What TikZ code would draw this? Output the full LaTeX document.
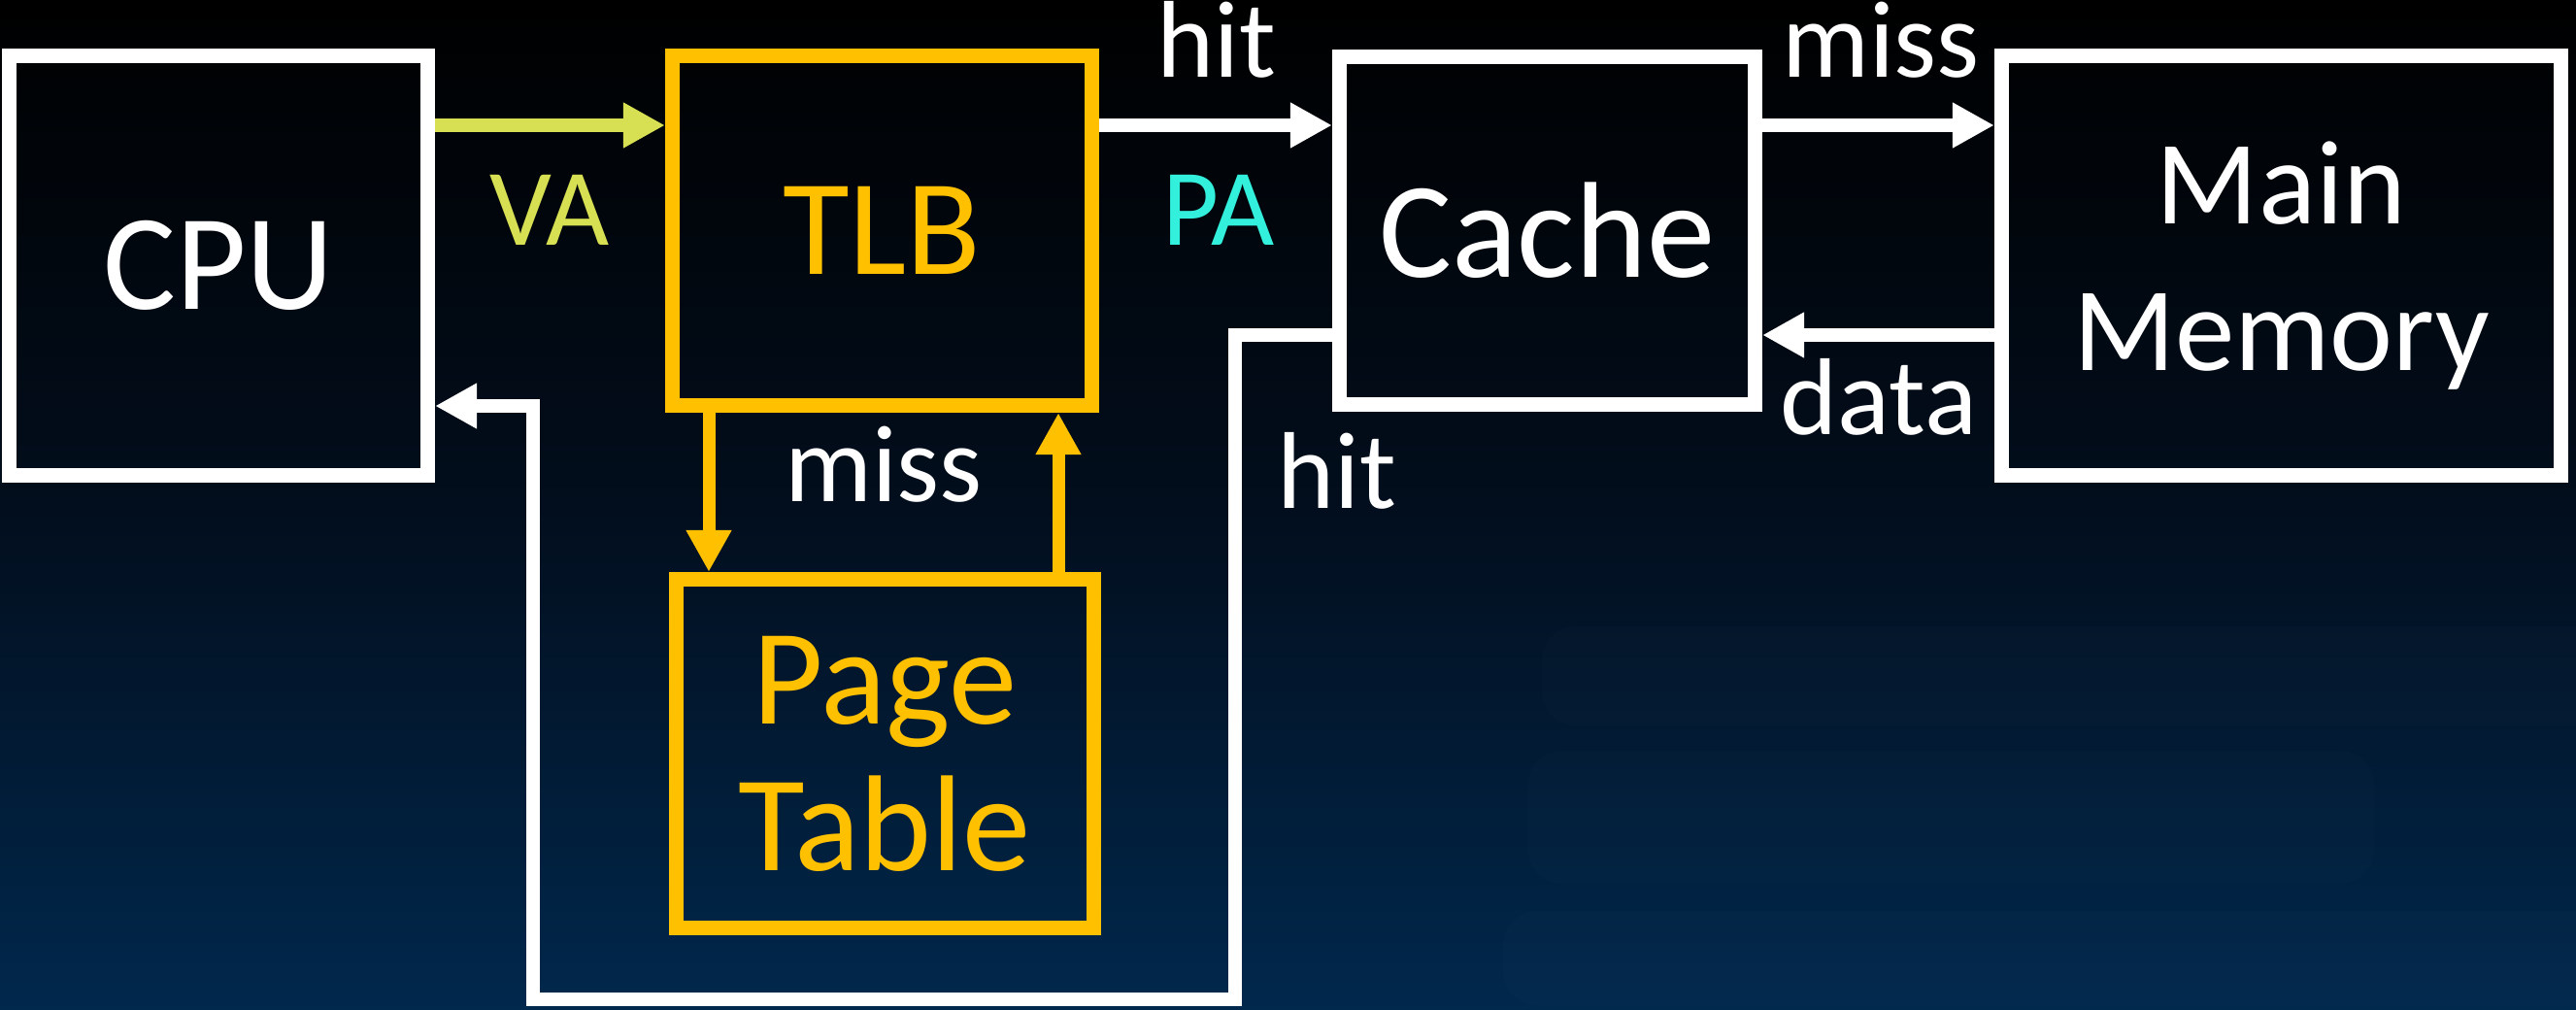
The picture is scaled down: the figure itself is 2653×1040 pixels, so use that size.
\documentclass[tikz,border=0pt]{standalone}
\usepackage{fontspec}
\setmainfont{Carlito}
\usetikzlibrary{arrows.meta}
\definecolor{gold}{HTML}{FFC000}
\definecolor{vacol}{HTML}{D7E052}
\definecolor{pacol}{HTML}{33F0DC}
\definecolor{bgtop}{HTML}{000000}
\definecolor{bgmid}{HTML}{020E1D}
\definecolor{bgbot}{HTML}{01284D}
\tikzset{
  box/.style={draw=white, line width=0.15cm, inner sep=0pt, align=center, text=white,
    font=\fontsize{40}{43}\selectfont},
  goldbox/.style={box, draw=gold, text=gold},
  conn/.style={line width=0.14cm, line join=miter,
    -{Triangle[length=0.43cm,width=0.44cm]}},
  lbl/.style={anchor=base, text=white, font=\fontsize{32}{36}\selectfont, inner sep=0pt},
  faint/.style={fill=white, fill opacity=0.01, rounded corners=0.35cm}
}
\begin{document}
\begin{tikzpicture}[x=0.01cm, y=-0.01cm]
  \shade[top color=bgtop, bottom color=bgbot, middle color=bgmid] (0,0) rectangle (2653,1040);
  \useasboundingbox (0,0) rectangle (2653,1040);
  % faint background shapes
  \fill[faint] (1588,645) rectangle (2700,747);
  \fill[faint] (1574,773) rectangle (2445,910);
  \fill[faint] (1548,938) rectangle (2700,1035);

  % boxes
  \node[box, minimum width=4.31cm, minimum height=4.32cm] (CPU) at (225,273.5) {CPU};
  \node[goldbox, minimum width=4.32cm, minimum height=3.60cm] (TLB) at (908.5,237.5) {TLB};
  \node[box, minimum width=4.28cm, minimum height=3.58cm] (Cache) at (1593.5,237.5) {Cache};
  \node[box, minimum width=5.76cm, minimum height=4.32cm, font=\fontsize{35}{43}\selectfont] (MM) at (2349.5,273.5) {Main\\Memory};
  \node[goldbox, minimum width=4.30cm, minimum height=3.59cm] (PT) at (911.5,776) {Page\\Table};

  % helper coordinates
  \coordinate (yt) at (0,129);
  \coordinate (yd) at (0,345);
  \coordinate (dnx) at (730,0);
  \coordinate (upx) at (1090,0);
  \coordinate (lr) at (1272,1029);
  \coordinate (ll) at (549,1029);
  \coordinate (lt) at (549,418);

  % connectors
  \draw[conn, vacol] (CPU.east |- yt) -- (TLB.west |- yt);
  \draw[conn, white] (TLB.east |- yt) -- (Cache.west |- yt);
  \draw[conn, white] (Cache.east |- yt) -- (MM.west |- yt);
  \draw[conn, white] (MM.west |- yd) -- (Cache.east |- yd);
  \draw[conn, white] (Cache.west |- yd) -- (lr |- yd) -- (lr) -- (ll) -- (lt) -- (CPU.east |- lt);
  \draw[conn, gold, line width=0.13cm] (TLB.south -| dnx) -- (PT.north -| dnx);
  \draw[conn, gold, line width=0.13cm] (PT.north -| upx) -- (TLB.south -| upx);

  % labels
  \node[lbl, text=vacol] (lVA) at (566,253) {VA};
  \node[lbl, text=pacol] (lPA) at (1255,253) {PA};
  \node[lbl] (lhit1) at (1253,80) {hit};
  \node[lbl] (lmiss1) at (1937,80) {miss};
  \node[lbl] (ldata) at (1935,448) {data};
  \node[lbl] (lmiss2) at (910,517) {miss};
  \node[lbl] (lhit2) at (1377,524) {hit};
\end{tikzpicture}
\end{document}
